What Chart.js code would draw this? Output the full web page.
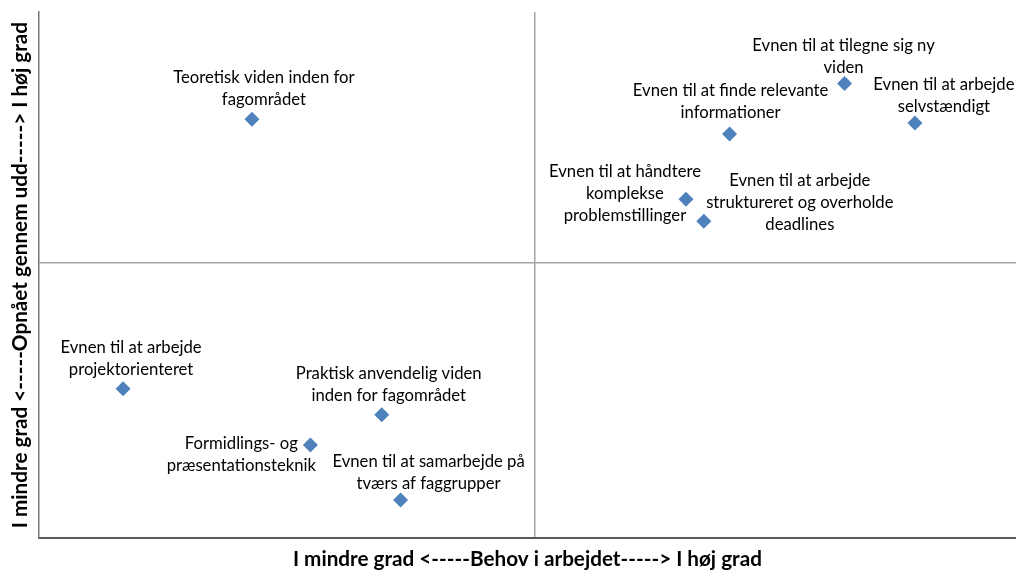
<!DOCTYPE html>
<html lang="da">
<head>
<meta charset="utf-8">
<title>Behov i arbejdet vs. opnået gennem uddannelse</title>
<script src="https://cdn.jsdelivr.net/npm/chart.js@4.4.1/dist/chart.umd.min.js"></script>
<style>
  html, body { margin: 0; padding: 0; background: #fff; }
  #wrap { width: 1016px; height: 577px; position: relative; }
</style>
</head>
<body>
<div id="wrap"><canvas id="matrixChart"></canvas></div>
<script>
// kompetencer (label-linjer som i Excel-diagrammet)
const kompetencer = [
  ['Teoretisk viden inden for', 'fagområdet'],
  ['Evnen til at tilegne sig ny', 'viden'],
  ['Evnen til at arbejde', 'selvstændigt'],
  ['Evnen til at finde relevante', 'informationer'],
  ['Evnen til at håndtere', 'komplekse', 'problemstillinger'],
  ['Evnen til at arbejde', 'struktureret og overholde', 'deadlines'],
  ['Evnen til at arbejde', 'projektorienteret'],
  ['Praktisk anvendelig viden', 'inden for fagområdet'],
  ['Formidlings- og', 'præsentationsteknik'],
  ['Evnen til at samarbejde på', 'tværs af faggrupper']
];
// x: behov i arbejdet, y: opnået gennem uddannelse (skala 0-10, midte = 5)
const behov   = [2.15, 8.13, 8.84, 6.97, 6.53, 6.71, 0.85, 3.46, 2.74, 3.65];
const opnaaet = [7.60, 8.25, 7.53, 7.33, 6.15, 5.75, 2.71, 2.24, 1.69, 0.69];
const midte = 5;

const xTitel = 'I mindre grad <-----Behov i arbejdet-----> I høj grad';
const yTitel = 'I mindre grad <-----Opnået gennem udd-----> I høj grad';

// placering af data-labels i forhold til punktet (flyttet manuelt i originalen)
const labelOffsets = [
  [12, -31], [-1, -27], [29, -27], [1, -32], [-61, -6],
  [96, -19], [8, -30], [7, -30], [-69, 10], [28, -28]
];

const pointLabels = {
  id: 'pointLabels',
  afterDatasetsDraw(chart) {
    const ctx = chart.ctx;
    const meta = chart.getDatasetMeta(0);
    ctx.save();
    ctx.font = '16.7px Lato, "Open Sans", sans-serif';
    ctx.fillStyle = '#000';
    ctx.textAlign = 'center';
    ctx.textBaseline = 'middle';
    const lh = 22;
    meta.data.forEach((pt, i) => {
      const lines = kompetencer[i];
      const [dx, dy] = labelOffsets[i];
      const cx = pt.x + dx;
      const top = pt.y + dy - (lines.length - 1) * lh / 2;
      lines.forEach((line, j) => ctx.fillText(line, cx, top + j * lh));
    });
    ctx.restore();
  }
};

const onlyMiddle = (scale) => { scale.ticks = [{ value: midte }]; };
const titleFont = { family: 'Lato, "Open Sans", sans-serif', size: 20.7, weight: 'bold' };

new Chart(document.getElementById('matrixChart'), {
  type: 'scatter',
  data: {
    datasets: [{
      label: 'Kompetencer',
      data: behov.map((x, i) => ({ x: x, y: opnaaet[i] })),
      pointStyle: 'rectRot',
      pointRadius: 7.5,
      pointHoverRadius: 7.5,
      backgroundColor: '#4F81BD',
      borderColor: '#4F81BD',
      borderWidth: 0
    }]
  },
  options: {
    responsive: true,
    maintainAspectRatio: false,
    animation: false,
    layout: { autoPadding: false, padding: { left: 6, top: 12, right: 0, bottom: 4 } },
    plugins: { legend: { display: false }, tooltip: { enabled: false } },
    scales: {
      x: {
        type: 'linear',
        min: 0,
        max: 9.86,
        afterBuildTicks: onlyMiddle,
        ticks: { display: false },
        grid: { color: '#A6A6A6', lineWidth: 1.5, drawTicks: false },
        border: { display: true, color: '#5A5A5A', width: 2 },
        title: {
          display: true,
          text: xTitel,
          color: '#000',
          font: titleFont,
          padding: { top: 9, bottom: 1 }
        }
      },
      y: {
        type: 'linear',
        min: 0,
        max: 9.545,
        afterBuildTicks: onlyMiddle,
        ticks: { display: false },
        grid: { color: '#A6A6A6', lineWidth: 1.5, drawTicks: false },
        border: { display: true, color: '#777', width: 1.5 },
        title: {
          display: true,
          text: yTitel,
          color: '#000',
          font: titleFont,
          padding: { top: 2, bottom: 6 }
        }
      }
    }
  },
  plugins: [pointLabels]
});
</script>
</body>
</html>
